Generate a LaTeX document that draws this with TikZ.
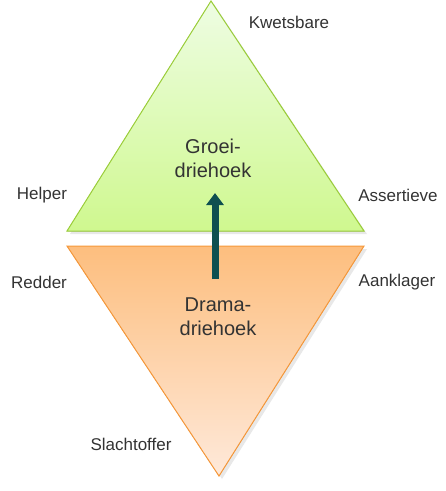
\documentclass[tikz,border=0pt]{standalone}
\usepackage{fontspec}
\setmainfont{Liberation Sans}
\usetikzlibrary{shadows,arrows.meta}
\definecolor{groenT}{HTML}{EEFDE3}
\definecolor{groenB}{HTML}{CFF88F}
\definecolor{groenR}{HTML}{9CCF3A}
\definecolor{oranjeT}{HTML}{FDBE7E}
\definecolor{oranjeB}{HTML}{FEE9DA}
\definecolor{oranjeR}{HTML}{F6983A}
\definecolor{pijlK}{HTML}{0E5050}
\definecolor{tekst}{HTML}{333333}
\tikzset{
    TR1/.style ={draw=groenR, line width=1pt, top color=groenT, bottom color=groenB, line join=miter,
                 drop shadow={opacity=0.18, shadow xshift=3pt, shadow yshift=-3pt}},
    TR2/.style ={draw=oranjeR, line width=1pt, top color=oranjeT, bottom color=oranjeB, line join=miter,
                 drop shadow={opacity=0.18, shadow xshift=3pt, shadow yshift=-3pt}},
    LB/.style ={text=tekst, inner sep=0pt, font=\fontsize{17}{20}\selectfont},
    MT/.style ={text=tekst, inner sep=0pt, align=center, font=\fontsize{20}{24}\selectfont},
    PL/.style ={pijlK, line width=7pt, -{Triangle[width=17pt,length=12pt]}}}
\begin{document}
\begin{tikzpicture}[x=1pt,y=-1pt]
        \useasboundingbox (0,0) rectangle (446,491);
        % groeidriehoek
        \coordinate (g1) at (211,1);
        \coordinate (g2) at (67,231);
        \coordinate (g3) at (364,231);
        \filldraw[TR1] (g1) -- (g2) -- (g3) -- cycle;
        % dramadriehoek
        \coordinate (d1) at (67,246);
        \coordinate (d2) at (364,246);
        \coordinate (d3) at (219,476);
        \filldraw[TR2] (d1) -- (d2) -- (d3) -- cycle;
        \node[MT] (groei) at (213,158){Groei-\\driehoek};
        \node[MT] (drama) at (218,317){Drama-\\driehoek};
        \node[LB] (kw) at (289,22){Kwetsbare};
        \node[LB] (he) at (42,195){Helper};
        \node[LB] (as) at (398,195){Assertieve};
        \node[LB] (re) at (39,282){Redder};
        \node[LB] (aa) at (397,282){Aanklager};
        \node[LB] (sl) at (131,444){Slachtoffer};
        \coordinate (p1) at (215,279);
        \coordinate (p2) at (215,193);
        \draw[PL] (p1) -- (p2);
    \end{tikzpicture}
\end{document}
